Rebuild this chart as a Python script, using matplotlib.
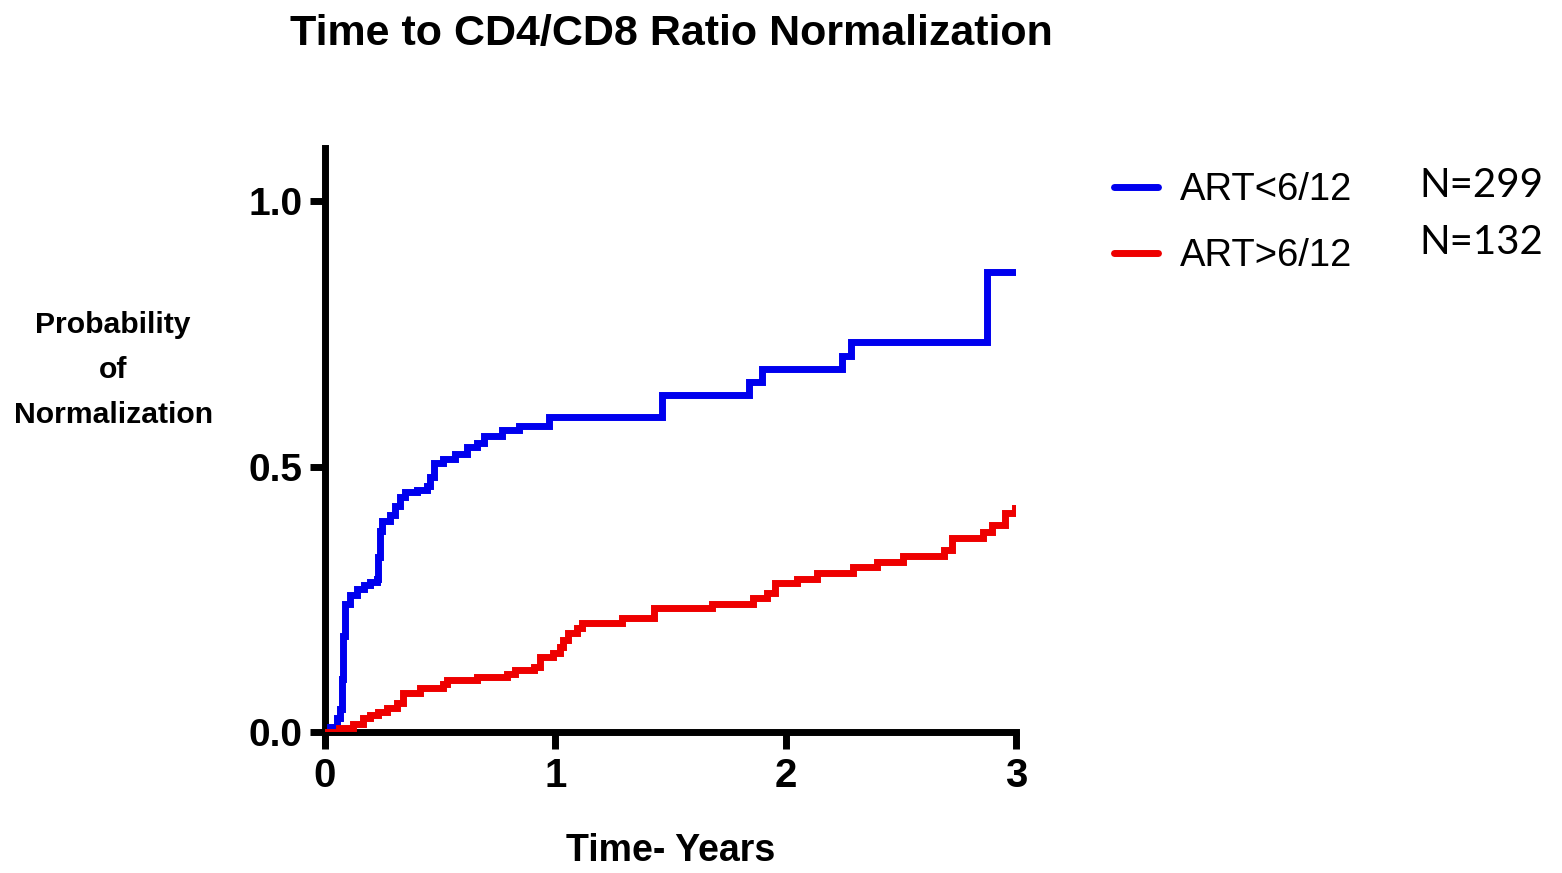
import matplotlib
matplotlib.use("Agg")
import matplotlib.pyplot as plt
from matplotlib.lines import Line2D

FONT = "Liberation Sans"

# ---- data ----
title = "Time to CD4/CD8 Ratio Normalization"
xlabel = "Time- Years"
ylabel = "Probability\nof\nNormalization"
series_labels = ["ART<6/12", "ART>6/12"]
series_counts = ["N=299", "N=132"]
x_ticks = [0, 1, 2, 3]
y_ticks = [0.0, 0.5, 1.0]
y_tick_labels = ["0.0", "0.5", "1.0"]

blue_t = [0, 0.022, 0.051, 0.065, 0.072, 0.080, 0.087, 0.109, 0.138, 0.167, 0.196,
          0.225, 0.232, 0.239, 0.246, 0.283, 0.304, 0.326, 0.348, 0.399, 0.442, 0.457,
          0.471, 0.514, 0.565, 0.616, 0.659, 0.688, 0.768, 0.841, 0.971, 1.462, 1.839,
          1.898, 2.245, 2.284, 2.873, 3.0]
blue_v = [0, 0.010, 0.027, 0.044, 0.10, 0.18, 0.241, 0.258, 0.269, 0.276, 0.282,
          0.289, 0.33, 0.378, 0.398, 0.408, 0.425, 0.442, 0.452, 0.456, 0.463, 0.48,
          0.507, 0.514, 0.524, 0.537, 0.544, 0.558, 0.568, 0.577, 0.594, 0.635, 0.659,
          0.683, 0.708, 0.735, 0.867, 0.867]

red_t = [0, 0.06, 0.123, 0.166, 0.195, 0.231, 0.268, 0.311, 0.34, 0.412, 0.513, 0.528,
         0.659, 0.789, 0.825, 0.905, 0.934, 0.991, 1.020, 1.035, 1.056, 1.093, 1.115,
         1.288, 1.426, 1.679, 1.860, 1.918, 1.954, 2.048, 2.135, 2.294, 2.395, 2.511,
         2.685, 2.721, 2.858, 2.895, 2.953, 2.996]
red_v = [0, 0.008, 0.016, 0.026, 0.032, 0.038, 0.045, 0.054, 0.073, 0.082, 0.090, 0.098,
         0.104, 0.110, 0.117, 0.123, 0.142, 0.148, 0.161, 0.173, 0.186, 0.195, 0.206,
         0.214, 0.233, 0.242, 0.252, 0.261, 0.280, 0.289, 0.299, 0.311, 0.321, 0.331,
         0.343, 0.365, 0.377, 0.390, 0.412, 0.421]

BLUE = "#0000ee"
RED = "#ee0000"

fig = plt.figure(figsize=(15.62, 8.73), dpi=100)
ax = fig.add_axes([0.2081, 0.1615, 0.4424, 0.669])

ax.step(blue_t, blue_v, where="post", color=BLUE, lw=5, solid_joinstyle="miter", zorder=3)
ax.step(red_t, red_v, where="post", color=RED, lw=5, solid_joinstyle="miter", zorder=3)

ax.set_xlim(0, 3)
ax.set_ylim(0, 1.1)
for s in ["top", "right"]:
    ax.spines[s].set_visible(False)
for s in ["left", "bottom"]:
    ax.spines[s].set_linewidth(5)
    ax.spines[s].set_capstyle("projecting")
ax.spines["left"].set_bounds(-0.02, 1.1)

ax.set_xticks(x_ticks)
ax.set_xticklabels([str(v) for v in x_ticks])
ax.set_yticks(y_ticks)
ax.set_yticklabels(y_tick_labels)
ax.tick_params(axis="x", length=12, width=5, pad=6, labelsize=29)
ax.tick_params(axis="y", length=11, width=5, pad=5, labelsize=28)
for lab in ax.get_xticklabels() + ax.get_yticklabels():
    lab.set_fontfamily(FONT)
    lab.set_fontweight("bold")

ax.set_xlabel(xlabel, fontsize=27, fontfamily=FONT, fontweight="bold", labelpad=27)

fig.text(0.0725, 0.576, ylabel, ha="center", va="center", fontsize=21.7,
         fontfamily=FONT, fontweight="bold", linespacing=1.76)

fig.text(0.4295, 0.961, title, ha="center", va="center", fontsize=31,
         fontfamily=FONT, fontweight="bold")

handles = [Line2D([], [], color=BLUE, lw=5, solid_capstyle="round"),
           Line2D([], [], color=RED, lw=5, solid_capstyle="round")]
leg = fig.legend(handles, series_labels, loc="upper left",
                 bbox_to_anchor=(0.6915, 0.842), frameon=False,
                 prop={"family": FONT, "size": 27.5},
                 handlelength=1.13, handletextpad=0.58, labelspacing=0.79)

for txt, y in zip(series_counts, [0.787, 0.722]):
    fig.text(0.909, y, txt, ha="left", va="center", fontsize=29, fontfamily="Lato")

fig.savefig("out.png", dpi=100, facecolor="white")
